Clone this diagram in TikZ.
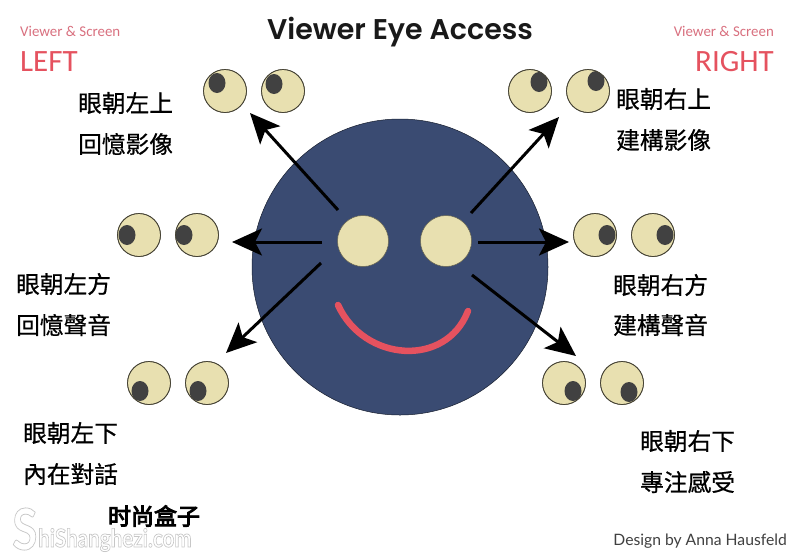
\documentclass[tikz,border=0pt]{standalone}
\usepackage{fontspec}
\setmainfont{Lato}
\newfontfamily\cjk{Noto Sans CJK TC}[FakeBold=0.6]
\newfontfamily\brushfont{Noto Sans CJK SC}[FakeBold=4]
\newfontfamily\labelfont{Carlito}
\newfontfamily\headfont{Poppins}[UprightFont={* SemiBold}]
\newfontfamily\stampfont{Lato}
\usetikzlibrary{arrows.meta}
\definecolor{facefill}{HTML}{3A4B72}
\definecolor{eyefill}{HTML}{E8E0B0}
\definecolor{pupilfill}{HTML}{414141}
\definecolor{accent}{HTML}{E5525F}
\definecolor{softred}{HTML}{D9707F}
% Outlined glyphs: stroke-only text rendering with a thin grey line
\newcommand{\outlined}[1]{\special{pdf:code q 1 Tr 0.6 w 0.78 G}#1\special{pdf:code Q}}
\tikzset{
  x=1pt,y=-1pt,
  eyeball/.style={circle,draw=black!70!eyefill,line width=0.7pt,fill=eyefill,minimum size=43pt,inner sep=0pt},
  ptr/.style={draw=black,line width=3pt,-{Stealth[length=30pt,width=27pt,inset=7pt]}},
  captxt/.style={font=\cjk\fontsize{23.7}{24}\selectfont,text=black,inner sep=0pt,anchor=west,xshift=-1pt},
  pupil/.style={fill=pupilfill,draw=none},
}
\newcommand{\lookeye}[5]{%
  \node[eyeball] (#1) at (#2,#3) {};
  \begin{scope}
    \clip (#2,#3) circle (21.5);
    \fill[pupil] (#4,#5) ellipse (8.5 and 10);
  \end{scope}
  \draw[black!70!eyefill,line width=0.7pt] (#2,#3) circle (21.5);
}
\begin{document}
\begin{tikzpicture}
\useasboundingbox (0,0) rectangle (800,558);
\fill[white] (0,0) rectangle (800,558);

% head with eyes and mouth
\node[circle,fill=facefill,draw=black!60!facefill,line width=0.5pt,minimum size=296pt,inner sep=0pt] (face) at (400,267) {};
\node[circle,fill=eyefill,draw=black!55!eyefill,line width=0.5pt,minimum size=51pt,inner sep=0pt] (lefteye) at (363,241) {};
\node[circle,fill=eyefill,draw=black!55!eyefill,line width=0.5pt,minimum size=51pt,inner sep=0pt] (righteye) at (446,241) {};
\coordinate (smileA) at (338,305);
\coordinate (smileB) at (468,311);
\draw[accent,line width=6.5pt,line cap=round] (smileA) .. controls (364,362) and (446,368) .. (smileB);

% titles
\node[font=\headfont\fontsize{28.5}{29}\selectfont,inner sep=0pt,text=black!90] (title) at (400,32) {Viewer Eye Access};
\node[font=\labelfont\fontsize{14.9}{16}\selectfont,text=softred,inner sep=0pt,anchor=west] (vl) at (20,31) {Viewer \& Screen};
\node[font=\labelfont\fontsize{14.9}{16}\selectfont,text=softred,inner sep=0pt,anchor=east] (vr) at (774,31) {Viewer \& Screen};
\node[font=\labelfont\fontsize{31}{31}\selectfont,text=accent,inner sep=0pt,anchor=west] (ltag) at (20,62) {LEFT};
\node[font=\labelfont\fontsize{31}{31}\selectfont,text=accent,inner sep=0pt,anchor=east] (rtag) at (774,62) {RIGHT};

% eye pairs for the six gaze directions
\lookeye{ula}{225}{91}{217}{83}
\lookeye{ulb}{283}{91}{274}{84}
\lookeye{ura}{530}{91}{539}{82}
\lookeye{urb}{588}{91}{596}{81}
\lookeye{la}{139}{235}{127}{235}
\lookeye{lb}{197}{235}{184}{235}
\lookeye{ra}{595}{235}{607}{235}
\lookeye{rb}{653}{235}{665}{235}
\lookeye{dla}{149}{383}{140}{391}
\lookeye{dlb}{207}{383}{198}{391}
\lookeye{dra}{564}{383}{573}{391}
\lookeye{drb}{622}{383}{629}{392}

% gaze arrows, each starting just outside an inner eye
\coordinate (aul) at (338,210);
\coordinate (bul) at (250,113);
\coordinate (aur) at (471,213);
\coordinate (bur) at (559,117);
\coordinate (al) at (322,242);
\coordinate (bl) at (232,242);
\coordinate (ar) at (478,242);
\coordinate (br) at (569,242);
\coordinate (adl) at (321,263);
\coordinate (bdl) at (226,353);
\coordinate (adr) at (472,275);
\coordinate (bdr) at (576,356);
\draw[ptr] (aul) -- (bul);
\draw[ptr] (aur) -- (bur);
\draw[ptr] (al) -- (bl);
\draw[ptr] (ar) -- (br);
\draw[ptr] (adl) -- (bdl);
\draw[ptr] (adr) -- (bdr);

% captions
\node[captxt] (c1a) at (79,103) {眼朝左上};
\node[captxt] (c1b) at (79,144) {回憶影像};
\node[captxt] (c2a) at (617,99) {眼朝右上};
\node[captxt] (c2b) at (617,140) {建構影像};
\node[captxt] (c3a) at (17,284) {眼朝左方};
\node[captxt] (c3b) at (17,325) {回憶聲音};
\node[captxt] (c4a) at (614,285) {眼朝右方};
\node[captxt] (c4b) at (614,325) {建構聲音};
\node[captxt] (c5a) at (24,433) {眼朝左下};
\node[captxt] (c5b) at (24,474) {內在對話};
\node[captxt] (c6a) at (641,441) {眼朝右下};
\node[captxt] (c6b) at (641,482) {專注感受};

% credit and site mark
\node[font=\fontsize{15.7}{16}\selectfont,text=black!75,inner sep=0pt,anchor=east] (credit) at (787,541) {Design by Anna Hausfeld};
\node[font=\brushfont\fontsize{23}{23}\selectfont,text=black,inner sep=0pt] (mark) at (154,516) {时尚盒子};
\node[font=\stampfont\bfseries,inner sep=0pt,anchor=west] (wmS) at (12,529) {\outlined{\scalebox{1.05}[1.3]{\fontsize{44}{44}\selectfont S}}};
\node[font=\stampfont\bfseries,inner sep=0pt,anchor=west] (wm) at (38,540) {\outlined{\scalebox{0.98}[1.2]{\fontsize{21}{21}\selectfont hiShanghezi.com}}};
\end{tikzpicture}
\end{document}
